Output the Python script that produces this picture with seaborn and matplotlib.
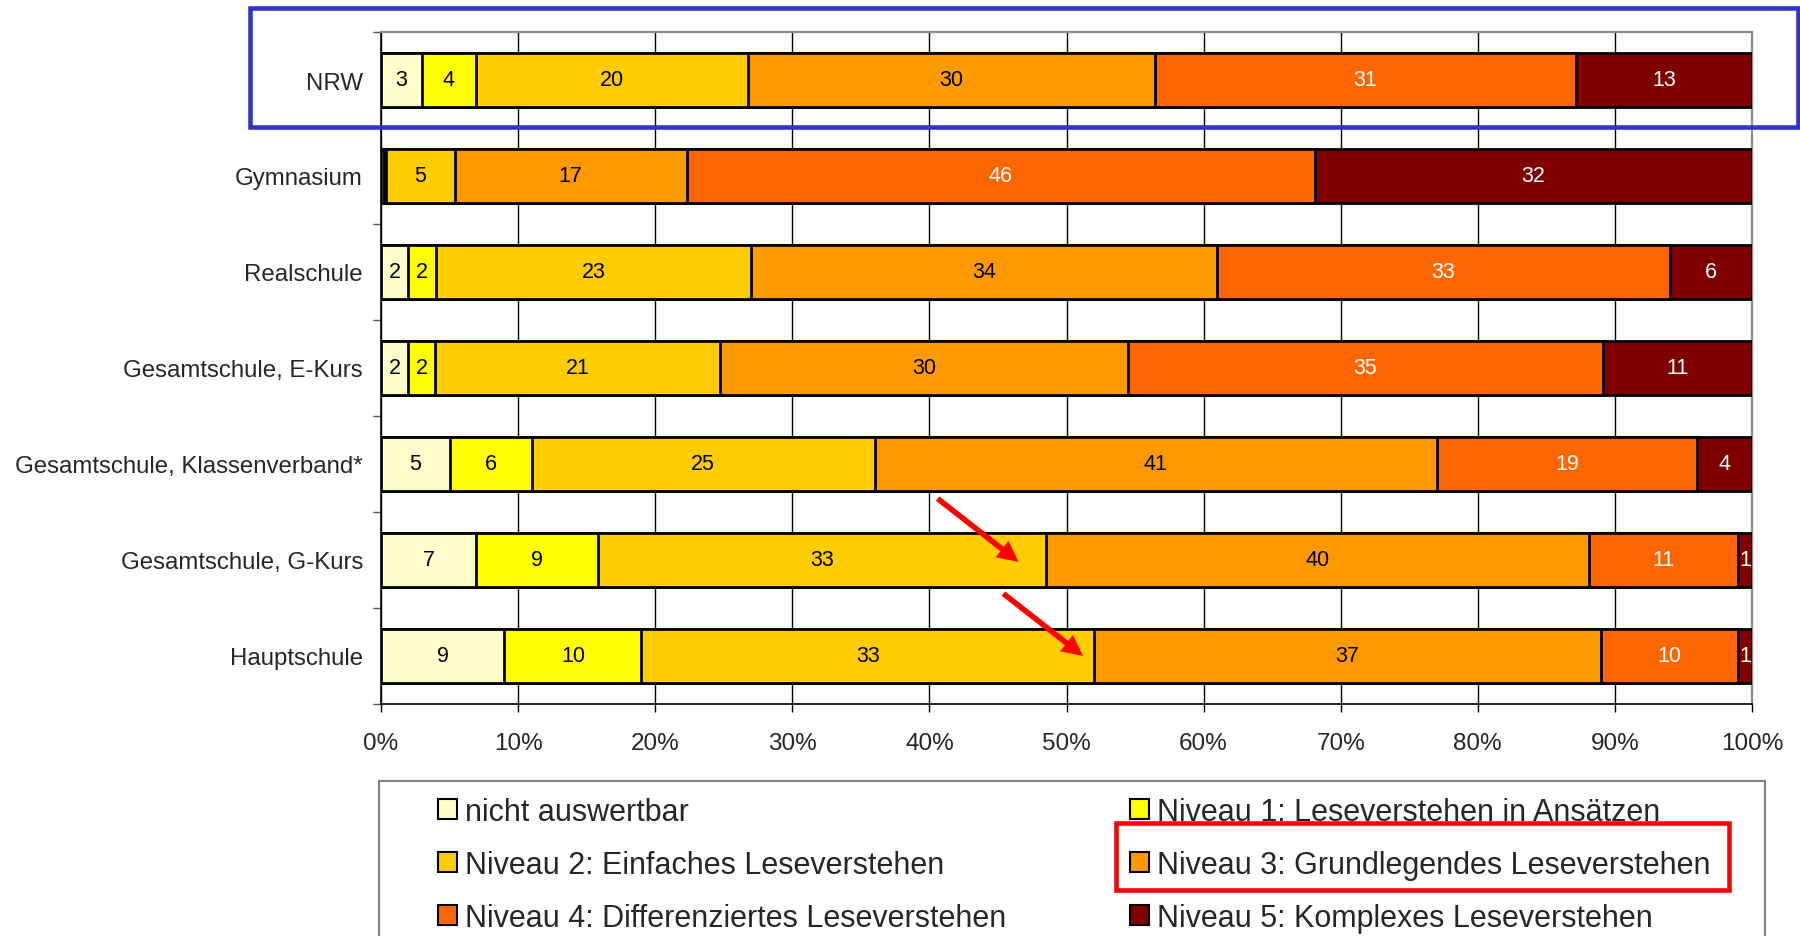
import numpy as np
import pandas as pd
import matplotlib
matplotlib.use("Agg")
import matplotlib.pyplot as plt
import seaborn as sns
from matplotlib.patches import Rectangle, Patch

# Reading-comprehension levels per school type (percent of pupils)
schools = ["NRW", "Gymnasium", "Realschule", "Gesamtschule, E-Kurs",
           "Gesamtschule, Klassenverband*", "Gesamtschule, G-Kurs", "Hauptschule"]
levels = ["nicht auswertbar",
          "Niveau 1: Leseverstehen in Ansätzen",
          "Niveau 2: Einfaches Leseverstehen",
          "Niveau 3: Grundlegendes Leseverstehen",
          "Niveau 4: Differenziertes Leseverstehen",
          "Niveau 5: Komplexes Leseverstehen"]
nicht_auswertbar = [3, 0.2, 2, 2, 5, 7, 9]
niveau_1 = [4, 0.2, 2, 2, 6, 9, 10]
niveau_2 = [20, 5, 23, 21, 25, 33, 33]
niveau_3 = [30, 17, 34, 30, 41, 40, 37]
niveau_4 = [31, 46, 33, 35, 19, 11, 10]
niveau_5 = [13, 32, 6, 11, 4, 1, 1]
level_colors = ["#FFFFCC", "#FFFF00", "#FFCC00", "#FF9900", "#FF6600", "#800000"]
text_colors = ["black", "black", "black", "black", "white", "white"]
x_ticks = [0, 10, 20, 30, 40, 50, 60, 70, 80, 90, 100]

sns.set_style("white")
plt.rcParams["font.family"] = ["Liberation Sans", "DejaVu Sans"]

raw = pd.DataFrame(
    dict(zip(levels, [nicht_auswertbar, niveau_1, niveau_2, niveau_3, niveau_4, niveau_5])),
    index=schools)
# 100 % stacked: every row is scaled to its own total
share = raw.div(raw.sum(axis=1), axis=0) * 100
cum = share.cumsum(axis=1)

W, H = 1800, 937
fig = plt.figure(figsize=(W / 100, H / 100), dpi=100)
ax = fig.add_axes([381 / W, 1 - 705 / H, (1752 - 381) / W, (705 - 33) / H])

# Draw cumulative bars from the longest to the shortest so each level sits on top
for k in reversed(range(len(levels))):
    d = pd.DataFrame({"school": schools, "value": cum.iloc[:, k].values})
    sns.barplot(data=d, x="value", y="school", order=schools, orient="h",
                color=level_colors[k], saturation=1, width=0.57, errorbar=None,
                edgecolor="black", linewidth=2, ax=ax, zorder=3)

# Value labels in the middle of each segment
for i, school in enumerate(schools):
    left = 0.0
    for k, lev in enumerate(levels):
        w = share.loc[school, lev]
        v = raw.loc[school, lev]
        if v >= 1:
            ax.text(left + w / 2, i, f"{v:g}", ha="center", va="center",
                    fontsize=15.5, color=text_colors[k], zorder=5)
        left += w

ax.set_xlim(0, 100)
ax.set_ylim(len(schools) - 0.5, -0.5)
ax.set_xticks(x_ticks)
ax.set_xticklabels([f"{t}%" for t in x_ticks], fontsize=17.5)
ax.set_yticks(range(len(schools)))
ax.set_yticklabels(schools, fontsize=17.3)
ax.set_yticks(np.arange(-0.5, len(schools) + 0.5, 1), minor=True)
ax.tick_params(axis="y", which="major", length=0, pad=13)
ax.tick_params(axis="y", which="minor", length=6, width=1, color="#555555", direction="out", left=True)
ax.tick_params(axis="x", which="major", length=6, width=1, color="black", direction="out", bottom=True, pad=14)
ax.set_xlabel("")
ax.set_ylabel("")
ax.xaxis.grid(True, color="black", linewidth=1)
ax.yaxis.grid(False)
ax.set_axisbelow(True)
for side in ("top", "right"):
    ax.spines[side].set_color("#8c8c8c")
    ax.spines[side].set_linewidth(1.6)
for side in ("left", "bottom"):
    ax.spines[side].set_color("black")
    ax.spines[side].set_linewidth(1.2)

# Arrows pointing at the shift to level 3
arrow_style = dict(arrowstyle="simple,head_length=0.75,head_width=0.75,tail_width=0.2",
                   mutation_scale=20, color="red", lw=0, shrinkA=0, shrinkB=0)
ax.annotate("", xy=(46.5, 5.02), xytext=(40.6, 4.36), arrowprops=arrow_style, zorder=6)
ax.annotate("", xy=(51.2, 6.0), xytext=(45.4, 5.35), arrowprops=arrow_style, zorder=6)

# Legend: frame plus two columns
fig.add_artist(Rectangle((379 / W, -0.02), (1765 - 379) / W, 0.02 + (937 - 782) / H,
                         transform=fig.transFigure, fill=False, edgecolor="#808080", lw=1.5))
handles = [Patch(facecolor=c, edgecolor="black", linewidth=1.5) for c in level_colors]
leg_kw = dict(loc="upper left", frameon=False, fontsize=22, handlelength=0.62,
              handleheight=0.62, handletextpad=0.25, labelspacing=0.75,
              borderpad=0, borderaxespad=0)
fig.legend([handles[i] for i in (0, 2, 4)], [levels[i] for i in (0, 2, 4)],
           bbox_to_anchor=(438 / W, 1 - 798 / H), **leg_kw)
fig.legend([handles[i] for i in (1, 3, 5)], [levels[i] for i in (1, 3, 5)],
           bbox_to_anchor=(1130 / W, 1 - 798 / H), **leg_kw)

# Highlight boxes
fig.add_artist(Rectangle((250 / W, 1 - 128 / H), (1798 - 250) / W, (128 - 9) / H,
                         transform=fig.transFigure, fill=False, edgecolor="#3333CC", lw=3.3))
fig.add_artist(Rectangle((1116 / W, 1 - 891 / H), (1729 - 1116) / W, (891 - 824) / H,
                         transform=fig.transFigure, fill=False, edgecolor="#FF0000", lw=3.3))

fig.savefig("out.png", dpi=100)
